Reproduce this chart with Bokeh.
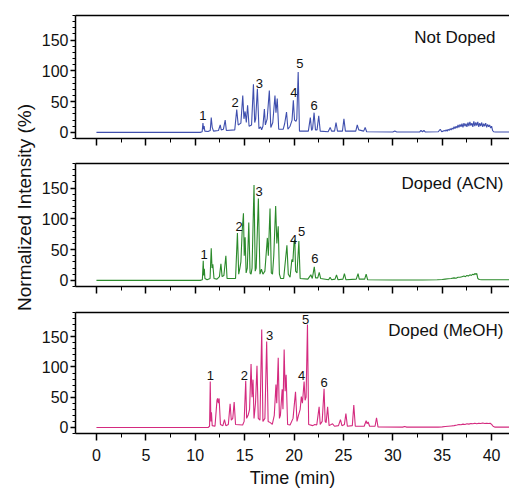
import math
from bokeh.plotting import figure
from bokeh.layouts import row, column
from bokeh.models import LinearAxis, FixedTicker, Range1d, Label, SingleIntervalTicker
from bokeh.embed import file_html
from bokeh.resources import INLINE
from bokeh.core.properties import value

# ---------------- data ----------------
# Not Doped trace: retention time (min) and normalized intensity (%)
nd_time = [0, 10.5, 10.7, 10.78, 10.84, 10.9, 10.97, 11.3, 11.52, 11.62, 11.72, 11.85,
           12.35, 12.53, 12.63, 12.85, 13.03, 13.15, 14.0, 14.2, 14.35, 14.62, 14.81, 14.93,
           15.05, 15.17, 15.3, 15.45, 15.7, 15.89, 16.02, 16.12, 16.29, 16.45, 16.62, 16.72,
           16.85, 17.0, 17.1, 17.28, 17.5, 17.65, 17.85, 18.07, 18.17, 18.3, 18.45, 18.9,
           19.05, 19.24, 19.38, 19.6, 19.8, 19.93, 20.05, 20.2, 20.28, 20.42, 20.55, 21.45,
           21.65, 21.78, 21.88, 22.03, 22.17, 22.33, 22.5, 22.65, 23.45, 23.66, 23.8, 24.1,
           24.25, 24.4, 24.9, 25.05, 25.2, 26.25, 26.4, 26.55, 27.05, 27.2, 27.35, 30.0,
           30.2, 30.4, 32.7, 32.85, 33.0, 33.15, 33.3, 34.6, 34.8, 34.95,
           35.1, 35.2, 35.3, 35.4, 35.5, 35.6, 35.7, 35.8, 35.9, 36.0, 36.1, 36.2, 36.3,
           36.4, 36.5, 36.6, 36.7, 36.8, 36.9, 37.0, 37.1, 37.2, 37.3, 37.4, 37.5, 37.6,
           37.7, 37.8, 37.9, 38.0, 38.1, 38.2, 38.3, 38.4, 38.5, 38.6, 38.7, 38.8, 38.9,
           39.0, 39.1, 39.2, 39.3, 39.4, 39.5, 39.6, 39.7, 39.8, 39.9, 40.0, 40.1, 40.2,
           40.4, 42.0]
nd_int = [0, 0, 1, 15, 5, 10, 2, 1.5, 3, 24, 8, 2,
          3, 12, 4, 5, 20, 3, 4, 37, 12, 15, 60, 22,
          34, 16, 44, 10, 12, 78, 16, 22, 71, 6, 9, 4,
          10, 38, 12, 22, 68, 8, 16, 60, 32, 55, 5, 5,
          14, 33, 5, 10, 20, 52, 20, 18, 22, 98, 2, 2,
          24, 3, 6, 32, 4, 4, 27, 2, 1, 8, 2, 2,
          16, 2, 2, 22, 2, 2, 12, 4, 2, 8, 1, 0.5,
          2, 0.5, 0.5, 3, 1, 3, 0.5, 1, 5, 1,
          2, 3, 2, 4, 2, 5, 3, 6, 4, 7, 5, 9, 6,
          10, 7, 12, 8, 13, 9, 14, 8, 15, 10, 14, 9, 16,
          10, 17, 11, 15, 9, 18, 10, 16, 11, 17, 9, 15, 10,
          16, 9, 14, 10, 15, 8, 13, 9, 12, 7, 10, 3, 1,
          0.5, 0.5]

# Doped (ACN) trace
acn_time = [0, 10.5, 10.72, 10.81, 10.86, 10.92, 10.98, 11.2, 11.5, 11.62, 11.7, 11.78,
            11.9, 12.2, 12.45, 12.6, 12.72, 12.9, 13.1, 13.22, 14.08, 14.27, 14.4, 14.52,
            14.62, 14.75, 14.88, 14.96, 15.05, 15.15, 15.27, 15.42, 15.55, 15.65, 15.75, 15.95,
            16.07, 16.17, 16.39, 16.55, 16.7, 16.85, 17.05, 17.3, 17.4, 17.57, 17.7, 17.82,
            17.95, 18.14, 18.26, 18.4, 18.52, 18.65, 18.95, 19.28, 19.42, 19.6, 19.78, 19.88,
            20.0, 20.08, 20.16, 20.3, 20.49, 20.62, 21.4, 21.7, 21.85, 22.05, 22.18, 22.4,
            22.55, 22.7, 23.5, 23.65, 23.8, 24.15, 24.3, 24.45, 24.95, 25.1, 25.25, 26.3,
            26.48, 26.6, 27.15, 27.3, 27.45, 30.0, 33.0, 34.5,
            35.0, 35.3, 35.6, 35.9, 36.2, 36.4, 36.6, 36.8, 37.0, 37.2, 37.35, 37.5,
            37.65, 37.8, 37.95, 38.1, 38.2, 38.3, 38.4, 38.5, 38.6, 38.75, 39.0, 42.0]
acn_int = [0, 0, 1, 32, 8, 19, 3, 1, 3, 52, 20, 26,
           3, 2, 6, 27, 6, 8, 40, 3, 3, 77, 10, 20,
           30, 80, 109, 40, 70, 12, 20, 94, 12, 10, 20, 155,
           15, 20, 133, 10, 18, 10, 15, 69, 40, 117, 12, 10,
           40, 121, 60, 88, 10, 3, 3, 57, 10, 5, 34, 30,
           62, 66, 15, 12, 64, 3, 2, 9, 3, 22, 4, 4,
           13, 3, 1, 5, 1, 2, 9, 1, 2, 11, 1, 2,
           11, 2, 2, 10, 1, 0.5, 0.5, 1,
           1.5, 2, 2.5, 3, 4, 3.5, 5, 5, 6, 7, 6, 8,
           7, 9, 8, 10, 9, 11, 10, 11, 3, 1.5, 1, 1]

# Doped (MeOH) trace
meoh_time = [0, 11.3, 11.45, 11.52, 11.58, 11.64, 11.72, 12.0, 12.2, 12.26, 12.34, 12.42,
             12.55, 12.8, 12.96, 13.1, 13.35, 13.53, 13.65, 13.8, 13.94, 14.08, 14.8, 14.95,
             15.11, 15.2, 15.35, 15.5, 15.65, 15.75, 15.85, 15.95, 16.1, 16.25, 16.38, 16.55,
             16.73, 16.85, 17.05, 17.23, 17.38, 17.6, 17.8, 18.0, 18.17, 18.25, 18.4, 18.52,
             18.62, 18.8, 18.88, 19.0, 19.1, 19.2, 19.35, 19.6, 19.9, 20.15, 20.3, 20.45,
             20.62, 20.74, 20.85, 21.02, 21.12, 21.22, 21.36, 21.48, 21.9, 22.1, 22.3, 22.54,
             22.65, 22.85, 23.04, 23.15, 23.25, 23.4, 23.55, 23.9, 24.1, 24.5, 24.7, 24.85,
             25.1, 25.25, 25.4, 25.9, 26.05, 26.2, 27.1, 27.3, 27.4, 27.5, 27.65, 28.2,
             28.35, 28.5, 31.0, 31.2, 31.4, 34.6,
             35.0, 35.3, 35.6, 35.9, 36.2, 36.5, 36.7, 36.9, 37.1, 37.3, 37.5, 37.7,
             37.9, 38.1, 38.3, 38.5, 38.7, 38.9, 39.1, 39.3, 39.5, 39.7, 39.85, 40.0,
             40.15, 40.35, 42.0]
meoh_int = [0, 0, 2, 76, 10, 25, 3, 2, 45, 48, 40, 48,
            5, 3, 13, 3, 5, 39, 12, 15, 42, 5, 4, 10,
            77, 15, 20, 30, 105, 50, 79, 15, 40, 102, 15, 12,
            162, 10, 15, 142, 10, 8, 5, 20, 71, 40, 115, 15,
            20, 63, 30, 129, 60, 87, 5, 4, 15, 59, 10, 20,
            30, 51, 40, 76, 45, 50, 170, 5, 3, 5, 4, 34,
            5, 10, 64, 10, 8, 34, 3, 6, 2, 3, 13, 3,
            5, 23, 2, 3, 37, 2, 2, 11, 6, 9, 2, 2,
            16, 1, 0.5, 1.5, 0.5, 0.5,
            1, 1.5, 2, 2.5, 3, 4, 5, 4.5, 5.5, 5, 6, 5.5,
            6.5, 6, 7, 6, 7, 6.5, 7.5, 6.5, 7, 6.5, 7, 5,
            2, 0.5, 0.5]

# peak number annotations (time, intensity position, text)
nd_lab_t = [10.78, 14.04, 16.49, 19.98, 20.59, 22.03]
nd_lab_y = [28, 48, 80, 64, 112, 43]
acn_lab_t = [10.91, 14.44, 16.46, 19.95, 20.76, 22.1]
acn_lab_y = [42, 88, 144, 66, 80, 35]
meoh_lab_t = [11.52, 14.98, 17.53, 20.76, 21.16, 23.04]
meoh_lab_y = [86, 86, 152, 86, 178, 75]
peak_names = ["1", "2", "3", "4", "5", "6"]

panel_names = ["Not Doped", "Doped (ACN)", "Doped (MeOH)"]
panel_name_x = [40.4, 41.2, 41.2]
panel_name_y = [154, 158, 160]

FONT = "Liberation Sans"
X_RANGE = (-2.12, 41.81)
Y_RANGE = (-10, 190)


def make_panel(t, y, color, lab_t, lab_y, name, name_x, name_y,
               height, top, bottom, last):
    p = figure(width=471, height=height,
               x_range=Range1d(*X_RANGE), y_range=Range1d(*Y_RANGE),
               output_backend="svg", toolbar_location=None,
               min_border_left=35, min_border_right=0,
               min_border_top=top, min_border_bottom=bottom)
    p.outline_line_color = None
    p.grid.grid_line_color = None
    p.background_fill_color = "white"

    p.line(t, y, line_color=color, line_width=1.1)
    p.text(x=lab_t, y=lab_y, text=peak_names, text_font=value(FONT),
           text_font_size="13px", text_align="center", text_baseline="middle",
           text_color="#111111")
    p.add_layout(Label(x=name_x, y=name_y, text=name, text_font=FONT,
                       text_font_size="17px", text_align="right",
                       text_baseline="middle", text_color="#111111"))

    xa = p.below[0]
    xa.ticker = SingleIntervalTicker(interval=5, num_minor_ticks=2)
    xa.major_tick_out = 7
    xa.major_tick_in = 0
    xa.minor_tick_out = 4
    xa.minor_tick_in = 0
    xa.axis_line_width = 1.5
    xa.major_tick_line_width = 1.5
    xa.major_label_text_font = FONT
    xa.major_label_standoff = 8
    if last:
        xa.major_label_text_font_size = "16px"
        xa.major_label_text_color = "#111111"
        xa.axis_label = "Time (min)"
        xa.axis_label_text_font = FONT
        xa.axis_label_text_font_size = "18px"
        xa.axis_label_text_font_style = "normal"
        xa.axis_label_standoff = 4
        xa.axis_label_text_color = "#111111"
    else:
        xa.major_label_text_color = None

    ya = p.left[0]
    ya.ticker = SingleIntervalTicker(interval=50, num_minor_ticks=5)
    ya.major_tick_out = 5
    ya.major_tick_in = 0
    ya.minor_tick_out = 3
    ya.minor_tick_in = 0
    ya.axis_line_width = 1.5
    ya.major_tick_line_width = 1.5
    ya.major_label_text_font = FONT
    ya.major_label_text_font_size = "16px"
    ya.major_label_standoff = 2
    ya.major_label_text_color = "#111111"

    top_axis = LinearAxis(ticker=FixedTicker(ticks=[]), major_tick_out=0,
                          major_tick_in=0, minor_tick_out=0, minor_tick_in=0,
                          major_label_text_color=None, major_label_standoff=0,
                          axis_line_width=1.5)
    p.add_layout(top_axis, "above")
    return p


h1, h2, h3 = 158, 149, 183
p1 = make_panel(nd_time, nd_int, "#3f4fae", nd_lab_t, nd_lab_y,
                panel_names[0], panel_name_x[0], panel_name_y[0], h1, 15, 20, False)
p2 = make_panel(acn_time, acn_int, "#2b8a2b", acn_lab_t, acn_lab_y,
                panel_names[1], panel_name_x[1], panel_name_y[1], h2, 5, 21, False)
p3 = make_panel(meoh_time, meoh_int, "#d42a7f", meoh_lab_t, meoh_lab_y,
                panel_names[2], panel_name_x[2], panel_name_y[2], h3, 5, 55, True)

total_h = h1 + h2 + h3
lab = figure(width=38, height=total_h, x_range=Range1d(0, 1), y_range=Range1d(0, total_h),
             output_backend="svg", toolbar_location=None, min_border=0,
             x_axis_type=None, y_axis_type=None)
lab.outline_line_color = None
lab.grid.grid_line_color = None
lab.add_layout(Label(x=0.63, y=total_h - 207, text="Normalized Intensity (%)",
                     text_font=FONT, text_font_size="19px", angle=math.pi / 2,
                     text_align="center", text_baseline="middle",
                     text_color="#111111"))

layout = row(lab, column(p1, p2, p3, spacing=0), spacing=0)
open("out.html", "w").write(file_html(layout, INLINE))
